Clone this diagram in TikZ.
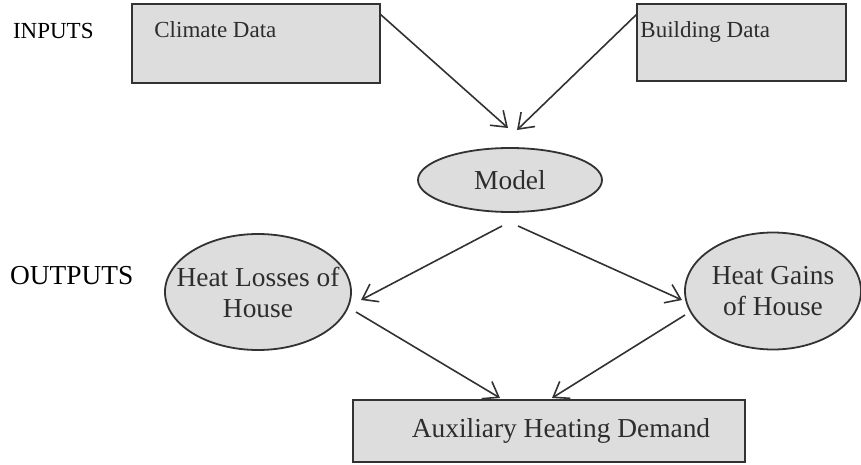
\documentclass[tikz,border=0pt]{standalone}
\usepackage{fontspec}
\setmainfont{Liberation Serif}
\usepackage{tikz}
\usetikzlibrary{shapes.geometric,arrows.meta}
\definecolor{boxfill}{RGB}{221,221,221}
\definecolor{linegray}{RGB}{50,50,50}
\definecolor{textgray}{RGB}{45,45,45}
\begin{document}
\begin{tikzpicture}[x=0.5pt,y=-0.5pt,
	inbox/.style={draw=linegray,line width=1.2pt,fill=boxfill,rectangle,outer sep=0pt,inner sep=0pt},
	outell/.style={draw=linegray,line width=0.9pt,fill=boxfill,ellipse,outer sep=0pt,inner sep=0pt},
	small/.style={font=\fontsize{11.5}{13}\selectfont,text=textgray},
	big/.style={font=\fontsize{13.7}{15.5}\selectfont,text=textgray,align=center},
	flow/.style={draw=linegray,line width=0.8pt,-{Straight Barb[length=7pt,width=10pt]}}]
		\useasboundingbox (0,0) rectangle (861,465);
		\node [small,text=black,anchor=west] (inputs) at (6,31) {INPUTS};
		\node [big,text=black,anchor=west] (outputs) at (3,276) {OUTPUTS};
		\node [inbox,minimum width=124pt,minimum height=39.5pt,
			label={[small,anchor=north west,inner sep=0pt,xshift=11pt,yshift=-8.5pt]north west:Climate Data}] (climate) at (256,43.5) {};
		\node [inbox,minimum width=104.5pt,minimum height=38.5pt,
			label={[small,anchor=north west,inner sep=0pt,xshift=1.5pt,yshift=-8.5pt]north west:Building Data}] (building) at (741.5,42.5) {};
		\node [outell,minimum width=92pt,minimum height=32pt,
			label={[big]center:Model}] (model) at (510,180) {};
		\node [outell,minimum width=93pt,minimum height=58pt,
			label={[big]center:Heat Losses of\\House}] (losses) at (258,292) {};
		\node [outell,minimum width=88pt,minimum height=58.5pt,
			label={[big]center:Heat Gains\\of House}] (gains) at (773,291) {};
		\node [inbox,minimum width=196pt,minimum height=31pt,
			label={[big,xshift=6pt]center:Auxiliary Heating Demand}] (aux) at (549,431) {};
		\coordinate (c1) at ([shift={(0,10)}]climate.north east);
		\coordinate (b1) at ([shift={(0,10)}]building.north west);
		\coordinate (m1) at ([shift={(-2,-20)}]model.north);
		\coordinate (m2) at ([shift={(7,-18)}]model.north);
		\coordinate (m3) at ([shift={(-8,14)}]model.south);
		\coordinate (m4) at ([shift={(8,14)}]model.south);
		\coordinate (l1) at ([shift={(10,8)}]losses.east);
		\coordinate (l2) at ([shift={(5,20)}]losses.east);
		\coordinate (g1) at ([shift={(-3,9)}]gains.west);
		\coordinate (g2) at ([shift={(0,24)}]gains.west);
		\coordinate (a1) at ([shift={(-49,-2)}]aux.north);
		\coordinate (a2) at ([shift={(3,-2)}]aux.north);
		\draw [flow] (c1) -- (m1);
		\draw [flow] (b1) -- (m2);
		\draw [flow] (m3) -- (l1);
		\draw [flow] (m4) -- (g1);
		\draw [flow] (l2) -- (a1);
		\draw [flow] (g2) -- (a2);
	\end{tikzpicture}
\end{document}
